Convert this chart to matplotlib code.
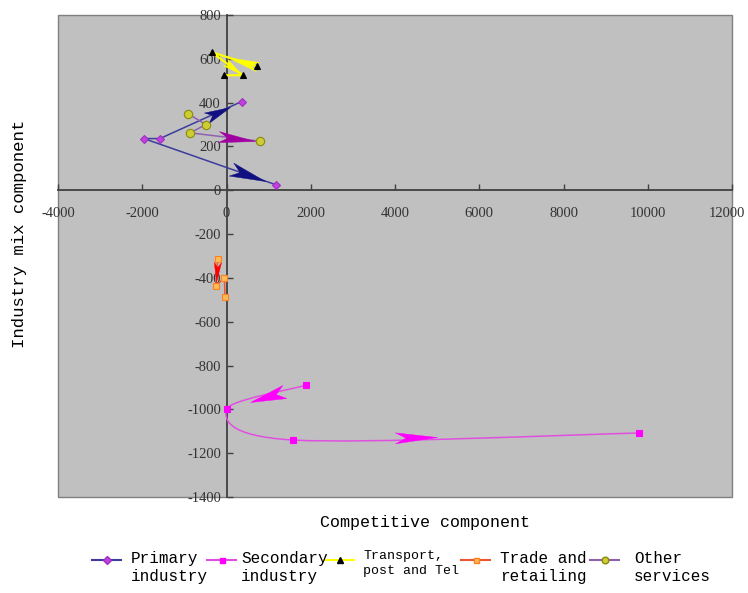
import numpy as np
import matplotlib
matplotlib.use('Agg')
import matplotlib.pyplot as plt
from matplotlib.path import Path
from matplotlib.patches import PathPatch
from matplotlib.markers import MarkerStyle
from matplotlib.transforms import Affine2D, ScaledTranslation
from matplotlib.lines import Line2D

plt.rcParams['axes.unicode_minus'] = False

# shift-share components per sector: (competitive, industry mix)
primary_x = [360, -1580, -1960, 1175]
primary_y = [405, 236, 236, 25]
secondary_x = [1880, 0, 1590, 9800]
secondary_y = [-890, -1000, -1140, -1108]
transport_x = [720, -350, 385, -50]
transport_y = [565, 630, 525, 525]
trade_x = [-210, -255, -50, -35]
trade_y = [-315, -437, -400, -487]
other_x = [-920, -490, -865, 800]
other_y = [350, 300, 262, 224]

legend_labels = ['Primary\nindustry', 'Secondary\nindustry', 'Transport,\npost and Tel',
                 'Trade and\nretailing', 'Other\nservices']

x_ticks = list(range(-4000, 12001, 2000))
y_ticks = list(range(-1400, 801, 200))

mono = 'Liberation Mono'
serif = 'Liberation Serif'

fig = plt.figure(figsize=(7.48, 5.93), dpi=100)
ax = fig.add_axes([58 / 748, 1 - 497 / 593, 674 / 748, 482 / 593])
ax.set_facecolor('#c0c0c0')
ax.patch.set_edgecolor('#808080')
ax.patch.set_linewidth(1.0)
ax.set_xlim(-4000, 12000)
ax.set_ylim(-1400, 800)
ax.set_xticks(x_ticks)
ax.set_yticks(y_ticks)

for side in ('top', 'right'):
    ax.spines[side].set_visible(False)
for side in ('left', 'bottom'):
    ax.spines[side].set_position(('data', 0))
    ax.spines[side].set_color('#404040')
    ax.spines[side].set_linewidth(1.3)
    ax.spines[side].set_zorder(1)
ax.tick_params(direction='in', length=4, width=1, color='#404040',
               labelsize=10.5, labelcolor='#333333')
ax.tick_params(axis='x', pad=12)
ax.tick_params(axis='y', pad=4)
for lab in ax.get_xticklabels() + ax.get_yticklabels():
    lab.set_fontfamily(serif)
# keep the last x label inside the canvas
last = ax.get_xticklabels()[-1]
last.set_transform(last.get_transform() + ScaledTranslation(-4 / 72, 0, fig.dpi_scale_trans))


def smooth_path(xs, ys):
    # bezier segments through the points, same idea as a smoothed spreadsheet line
    pts = np.column_stack([xs, ys]).astype(float)
    n = len(pts)
    verts = [pts[0]]
    codes = [Path.MOVETO]
    for i in range(n - 1):
        p0 = pts[max(i - 1, 0)]
        p1 = pts[i]
        p2 = pts[i + 1]
        p3 = pts[min(i + 2, n - 1)]
        verts += [p1 + (p2 - p0) / 6, p2 - (p3 - p1) / 6, p2]
        codes += [Path.CURVE4] * 3
    return Path(verts, codes)


series = {
    'primary': dict(x=primary_x, y=primary_y, color='#3c3c9c', marker='D', ms=4.5,
                    mfc='#c040e0', mec='#a030c0'),
    'secondary': dict(x=secondary_x, y=secondary_y, color='#e050e0', marker='s', ms=4.5,
                      mfc='#ff00ff', mec='#ff00ff'),
    'transport': dict(x=transport_x, y=transport_y, color='#ffff00', marker='^', ms=5,
                      mfc='black', mec='black'),
    'trade': dict(x=trade_x, y=trade_y, color='#ee5533', marker='s', ms=4.5,
                  mfc='#ffbb55', mec='#ff8020'),
    'other': dict(x=other_x, y=other_y, color='#9060b0', marker='o', ms=6,
                  mfc='#cccc33', mec='#8a8a10'),
}

for name, s in series.items():
    lw = 1.6 if name == 'transport' else 1.1
    if name == 'secondary':
        ax.add_patch(PathPatch(smooth_path(s['x'], s['y']), fill=False,
                               edgecolor=s['color'], lw=lw, zorder=2))
    else:
        ax.plot(s['x'], s['y'], color=s['color'], lw=lw, zorder=2)
    ax.plot(s['x'], s['y'], ls='none', marker=s['marker'], ms=s['ms'],
            mfc=s['mfc'], mec=s['mec'], mew=0.8, zorder=4)

# arrowheads: series, from point, to point, position of tip along segment,
# head length (px), head half width ratio, colour
arrows = [
    ('primary', 1, 0, 0.86, 26, 0.22, '#101080'),
    ('primary', 2, 3, 0.92, 36, 0.19, '#101080'),
    ('other', 2, 3, 0.93, 37, 0.15, '#a000a0'),
    ('secondary', 0, 1, 0.70, 36, 0.19, '#ff00ff'),
    ('secondary', 2, 3, 0.415, 42, 0.13, '#ff00ff'),
    ('trade', 0, 1, 0.86, 20, 0.18, '#ff0000'),
    ('transport', 0, 1, 0.67, 32, 0.15, '#ffff00'),
    ('transport', 1, 2, 0.96, 20, 0.2, '#ffff00'),
]

px_per_pt = fig.dpi / 72.0
for name, i, j, t, head, hw, col in arrows:
    s = series[name]
    a = np.array([s['x'][i], s['y'][i]], float)
    b = np.array([s['x'][j], s['y'][j]], float)
    tip = a + t * (b - a)
    da, db = ax.transData.transform([a, b])
    ang = np.degrees(np.arctan2(db[1] - da[1], db[0] - da[0]))
    verts = [(0, 0), (-1, hw), (-0.75, 0), (-1, -hw), (0, 0)]
    codes = [Path.MOVETO, Path.LINETO, Path.LINETO, Path.LINETO, Path.CLOSEPOLY]
    mk = MarkerStyle(Path(verts, codes), transform=Affine2D().rotate_deg(ang))
    ax.plot([tip[0]], [tip[1]], ls='none', marker=mk, ms=2 * head / px_per_pt,
            mfc=col, mec=col, mew=0.3, zorder=3)

fig.text(425 / 748, 1 - 522 / 593, 'Competitive component', family=mono,
         fontsize=12, ha='center', va='center')
fig.text(20 / 748, 1 - 234 / 593, 'Industry mix component', family=mono,
         fontsize=12.5, ha='center', va='center', rotation=90)

# legend drawn in figure pixels
order = ['primary', 'secondary', 'transport', 'trade', 'other']
handle_x = [92, 207, 325, 461, 590]
text_x = [131, 241, 363, 500, 634]
for k, name in enumerate(order):
    s = series[name]
    hy = 1 - 560 / 593
    x0, x1 = handle_x[k] / 748, (handle_x[k] + 29) / 748
    fig.add_artist(Line2D([x0, x1], [hy, hy], color=s['color'], lw=1.5,
                          transform=fig.transFigure))
    fig.add_artist(Line2D([(x0 + x1) / 2], [hy], ls='none', marker=s['marker'],
                          ms=s['ms'] * 0.8, mfc=s['mfc'], mec=s['mec'],
                          transform=fig.transFigure))
    if name == 'transport':
        fig.text(text_x[k] / 748, 1 - 550 / 593, legend_labels[k], family=mono,
                 fontsize=9.5, ha='left', va='top', linespacing=1.35)
    else:
        fig.text(text_x[k] / 748, 1 - 551 / 593, legend_labels[k], family=mono,
                 fontsize=11.5, ha='left', va='top', linespacing=1.25)

fig.savefig('out.png', dpi=100)
